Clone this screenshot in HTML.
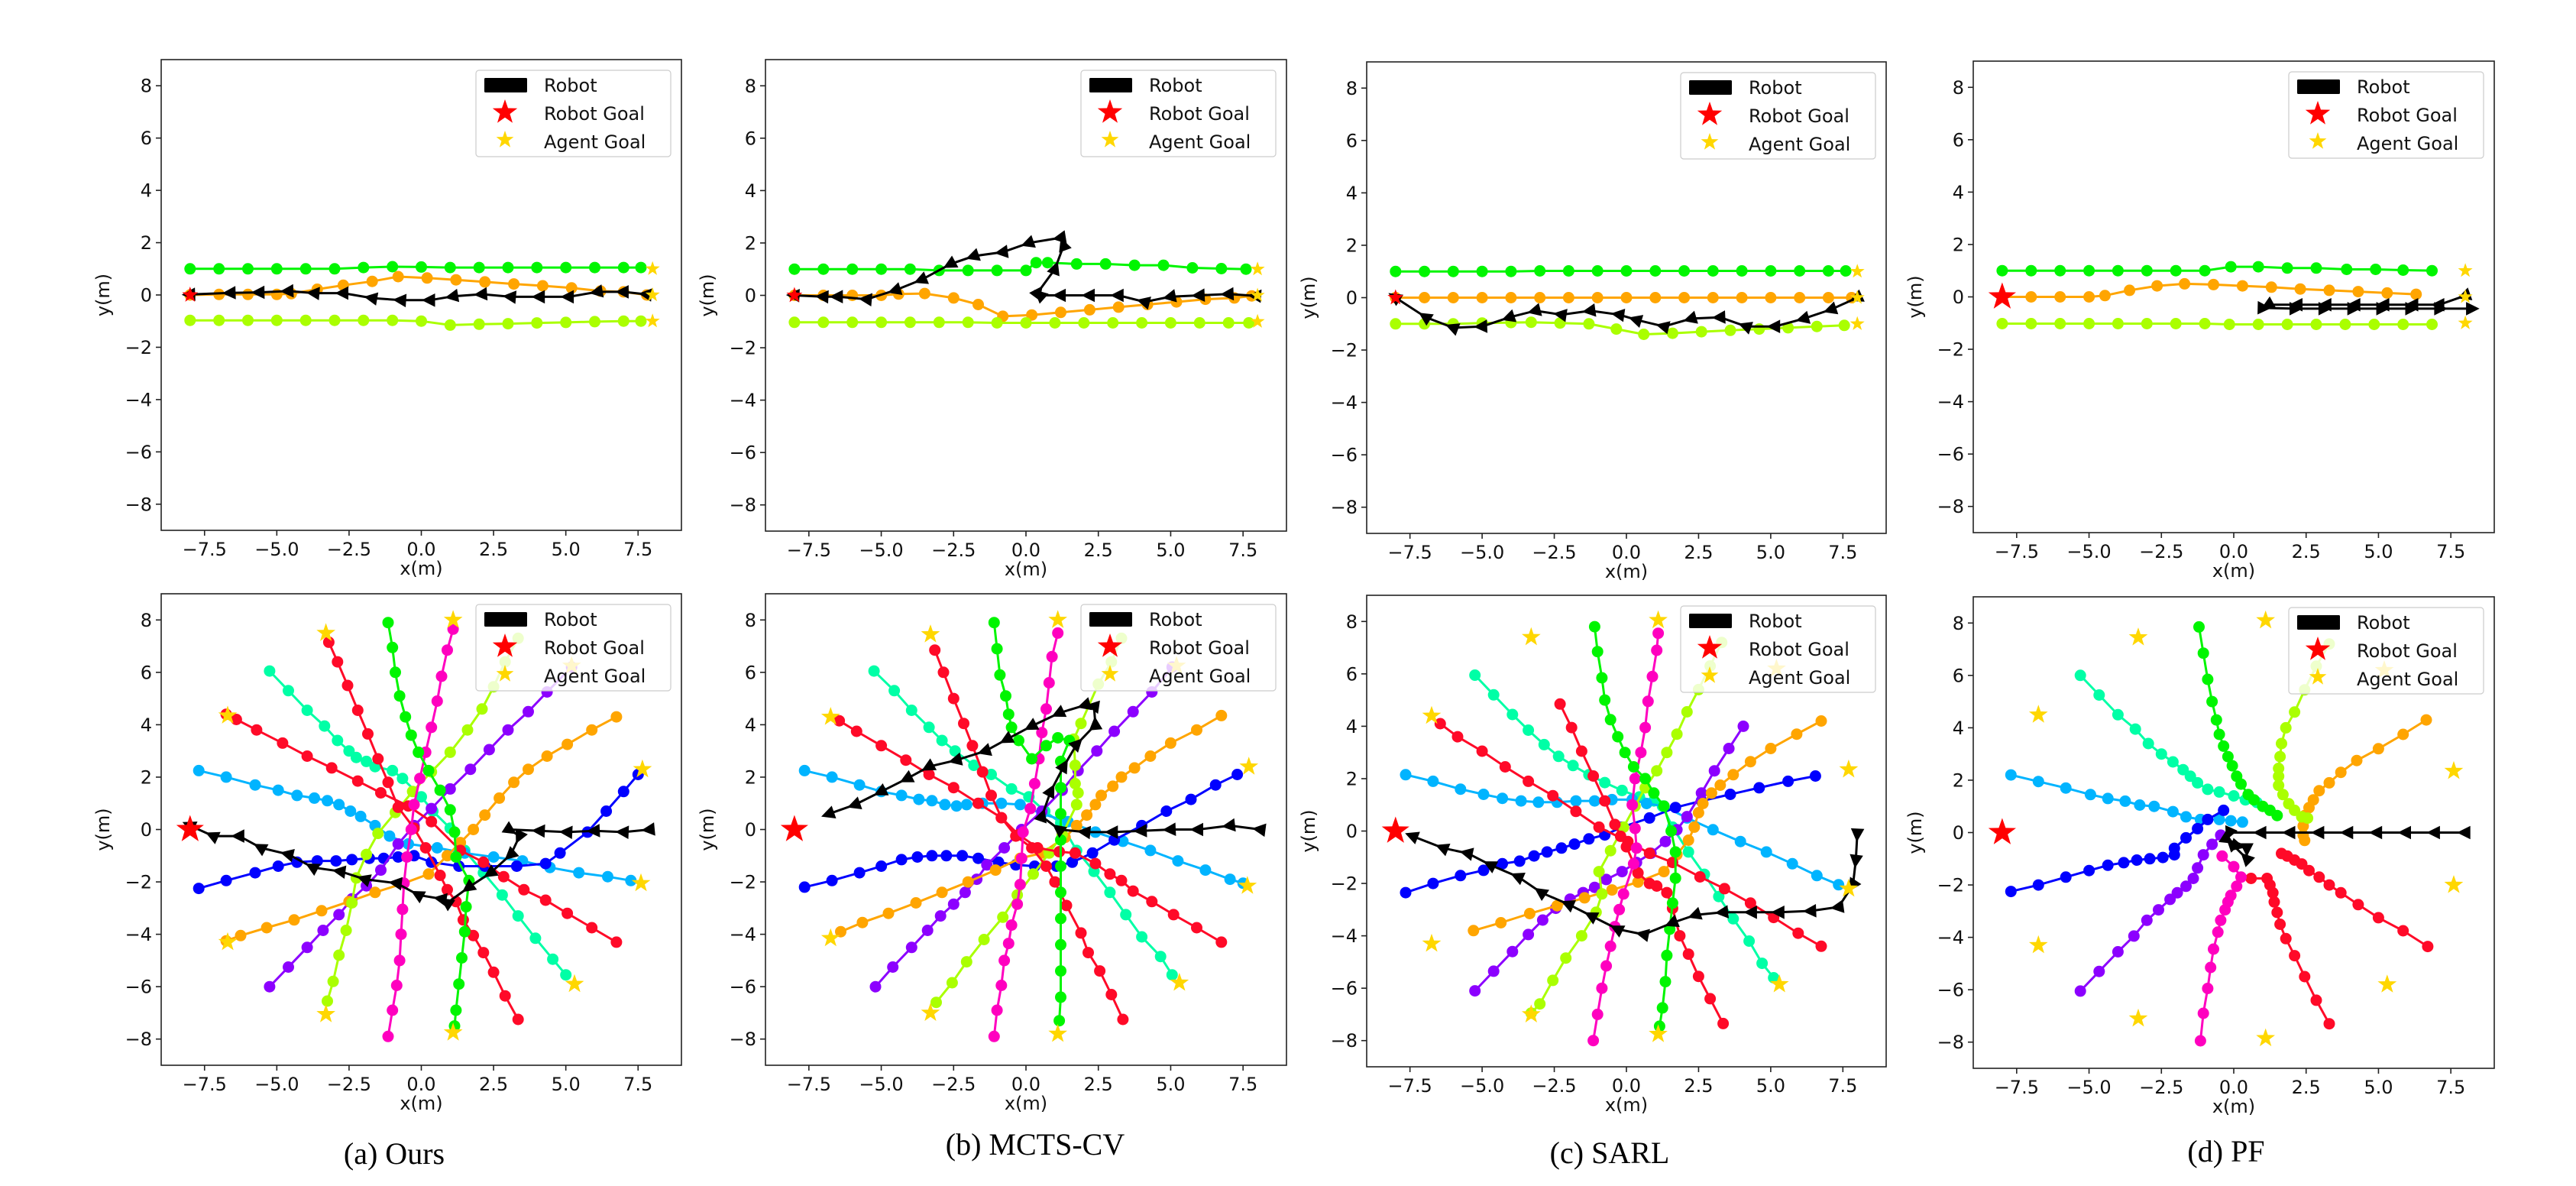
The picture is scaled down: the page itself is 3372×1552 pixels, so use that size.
<!DOCTYPE html>
<html><head><meta charset="utf-8"><title>Robot navigation trajectories</title>
<style>
html,body{margin:0;padding:0;background:#fff;}
svg{display:block;}
text{font-family:"DejaVu Sans","Liberation Sans",sans-serif;}
.cap{font-family:"Liberation Serif",serif;}
</style></head>
<body>
<svg id="fig" xmlns="http://www.w3.org/2000/svg" width="3372" height="1552" viewBox="0 0 3372 1552">
<rect x="0" y="0" width="3372" height="1552" fill="#fff"/>
</svg>
<script>
// ---------- DATA ----------
const xTicks = [-7.5, -5.0, -2.5, 0.0, 2.5, 5.0, 7.5];
const yTicks = [-8, -6, -4, -2, 0, 2, 4, 6, 8];
const captions = ["(a) Ours", "(b) MCTS-CV", "(c) SARL", "(d) PF"];
const legendLabels = ["Robot", "Robot Goal", "Agent Goal"];

// top row (3 agents: green, orange, lime)
const topGoalsX = [8, 8, 8];
const topGoalsY = [1, 0, -1];
const topA_green = [[-8,1],[-7,1],[-6,1],[-5,1],[-4,1],[-3,1],[-2,1.05],[-1,1.08],[0,1.07],[1,1.05],[2,1.05],[3,1.05],[4,1.05],[5,1.05],[6,1.05],[7,1.05],[7.6,1.05]];
const topA_orange = [[-8,0],[-7,0.02],[-6,0.02],[-5,0.02],[-4.5,0.05],[-3.6,0.22],[-2.7,0.37],[-1.7,0.52],[-0.8,0.7],[0.2,0.65],[1.2,0.58],[2.2,0.5],[3.2,0.42],[4.2,0.35],[5.2,0.27],[6.2,0.15],[7.0,0.12],[7.8,0]];
const topA_lime = [[-8,-0.97],[-7,-0.97],[-6,-0.97],[-5,-0.97],[-4,-0.97],[-3,-0.97],[-2,-0.97],[-1,-0.97],[0,-1.0],[1,-1.15],[2,-1.12],[3,-1.1],[4,-1.07],[5,-1.05],[6,-1.02],[7,-1.0],[7.6,-1.0]];
const topA_robot = [[7.8,0.02],[7.0,0.12],[6.1,0.12],[5.1,-0.07],[4.1,-0.07],[3.1,-0.07],[2.1,0.03],[1.1,-0.05],[0.3,-0.2],[-0.7,-0.2],[-1.7,-0.12],[-2.7,0.07],[-3.7,0.07],[-4.6,0.15],[-5.6,0.1],[-6.6,0.08],[-8,0.02]];

const topB_green = [[-8,1],[-7,1],[-6,1],[-5,1],[-4,1],[-3,0.95],[-2,0.95],[-1,0.95],[0,0.95],[0.35,1.25],[0.75,1.25],[1.75,1.2],[2.75,1.2],[3.75,1.15],[4.75,1.15],[5.75,1.05],[6.75,1.02],[7.6,1.0]];
const topB_orange = [[-8,0],[-7,0],[-6,0],[-5,0],[-4.4,0.05],[-3.5,0.07],[-2.5,-0.1],[-1.65,-0.35],[-0.8,-0.8],[0.2,-0.75],[1.2,-0.65],[2.2,-0.55],[3.2,-0.45],[4.2,-0.35],[5.2,-0.25],[6.2,-0.15],[7.2,-0.1],[7.8,-0.02]];
const topB_lime = [[-8,-1.03],[-7,-1.03],[-6,-1.03],[-5,-1.03],[-4,-1.03],[-3,-1.03],[-2,-1.03],[-1,-1.05],[0,-1.05],[1,-1.05],[2,-1.05],[3,-1.05],[4,-1.05],[5,-1.05],[6,-1.05],[7,-1.05],[7.7,-1.05]];
const topB_robot = [[7.95,-0.02],[7.0,0.05],[6.0,0],[5.0,-0.05],[4.1,-0.25],[3.2,0],[2.2,0],[1.2,0],[0.5,0],[0.4,0.1],[1.0,1.0],[1.3,1.9],[1.2,2.2],[0.1,2.0],[-0.8,1.65],[-1.8,1.5],[-2.6,1.2],[-3.6,0.6],[-4.5,0.2],[-5.5,-0.15],[-6.5,-0.05],[-7.0,-0.05],[-8,0]];

const topC_green = [[-8,1],[-7,1],[-6,1],[-5,1],[-4,1],[-3,1.02],[-2,1.02],[-1,1.02],[0,1.02],[1,1.02],[2,1.02],[3,1.02],[4,1.02],[5,1.02],[6,1.02],[7,1.02],[7.6,1.02]];
const topC_orange = [[-8,0],[-7,0],[-6,0],[-5,0],[-4,0],[-3,0],[-2,0],[-1,0],[0,0],[1,0],[2,0],[3,0],[4,0],[5,0],[6,0],[7,0],[7.8,0]];
const topC_lime = [[-8,-1.0],[-7,-1.0],[-6,-1.0],[-5,-0.97],[-4,-0.95],[-3.3,-0.94],[-2.3,-0.97],[-1.3,-1.0],[-0.35,-1.2],[0.6,-1.4],[1.6,-1.36],[2.6,-1.3],[3.6,-1.25],[4.6,-1.2],[5.6,-1.15],[6.6,-1.1],[7.55,-1.06]];
const topC_robot = [[8.0,0],[7.1,-0.45],[6.15,-0.8],[5.15,-1.1],[4.15,-1.1],[3.25,-0.75],[2.25,-0.8],[1.3,-1.1],[0.35,-0.85],[-0.25,-0.65],[-1.25,-0.5],[-2.25,-0.65],[-3.15,-0.5],[-4.05,-0.75],[-5.0,-1.1],[-6.0,-1.15],[-6.95,-0.75],[-8.0,0]];

const topD_green = [[-8,1],[-7,1],[-6,1],[-5,1],[-4,1],[-3,1],[-2,1],[-1,1],[-0.1,1.15],[0.85,1.15],[1.85,1.1],[2.85,1.1],[3.9,1.05],[4.9,1.05],[5.85,1.02],[6.85,1.0]];
const topD_orange = [[-8,0],[-7,0],[-6,0],[-5,0],[-4.45,0.05],[-3.6,0.25],[-2.65,0.42],[-1.7,0.5],[-0.7,0.47],[0.3,0.42],[1.3,0.37],[2.3,0.3],[3.3,0.25],[4.3,0.2],[5.3,0.15],[6.3,0.1]];
const topD_lime = [[-8,-1.02],[-7,-1.02],[-6,-1.02],[-5,-1.02],[-4,-1.02],[-3,-1.02],[-2,-1.02],[-1,-1.02],[-0.15,-1.05],[0.85,-1.05],[1.85,-1.05],[2.85,-1.05],[3.85,-1.05],[4.85,-1.05],[5.85,-1.05],[6.85,-1.05]];
const topD_robot = [[8.0,0.05],[7.1,-0.3],[6.2,-0.3],[5.2,-0.3],[4.2,-0.3],[3.2,-0.3],[2.2,-0.3],[1.2,-0.3],[1.0,-0.42],[2.1,-0.45],[3.1,-0.45],[4.1,-0.45],[5.1,-0.45],[6.1,-0.45],[7.1,-0.45],[8.2,-0.45]];

// bottom row (circle crossing): goals
const botA_goalsX = [-3.3,-6.7,1.1,5.2,7.65,7.6,5.3,1.1,-3.3,-6.7];
const botA_goalsY = [7.5,4.35,8.0,6.25,2.3,-2.05,-5.9,-7.75,-7.05,-4.3];
const botB_goalsX = [-3.3,-6.75,1.1,5.2,7.7,7.65,5.3,1.1,-3.3,-6.75];
const botB_goalsY = [7.45,4.3,8.0,6.25,2.4,-2.15,-5.85,-7.8,-7.0,-4.15];
const botC_goalsX = [-3.3,-6.75,1.1,5.2,7.7,7.7,5.3,1.1,-3.3,-6.75];
const botC_goalsY = [7.4,4.4,8.05,6.2,2.35,-2.2,-5.85,-7.75,-7.0,-4.3];
const botD_goalsX = [-3.3,-6.75,1.1,5.2,7.6,7.6,5.3,1.1,-3.3,-6.75];
const botD_goalsY = [7.45,4.5,8.1,6.2,2.35,-2.0,-5.8,-7.85,-7.1,-4.3];

// Panel (a) bottom
const botA_green = [[-1.15,7.9],[-1.0,6.95],[-0.9,6.0],[-0.75,5.1],[-0.55,4.3],[-0.35,3.6],[-0.1,2.95],[0.25,2.25],[0.65,1.5],[1.0,0.75],[1.15,-0.1],[1.2,-1.05],[1.65,-1.95],[1.55,-2.95],[1.5,-3.9],[1.4,-4.9],[1.3,-5.9],[1.2,-6.9],[1.15,-7.5]];
const botA_magenta = [[1.1,7.65],[0.9,6.85],[0.7,5.85],[0.55,4.9],[0.35,3.9],[0.15,2.95],[-0.05,1.95],[-0.25,0.95],[-0.35,0],[-0.5,-1.05],[-0.6,-2.05],[-0.65,-3.05],[-0.7,-4.0],[-0.75,-5.0],[-0.85,-5.95],[-1.0,-6.9],[-1.15,-7.9]];
const botA_lime = [[3.35,7.3],[2.9,6.4],[2.5,5.45],[2.1,4.6],[1.6,3.8],[1.0,2.95],[0.35,2.2],[-0.3,1.45],[-0.9,0.65],[-1.5,-0.15],[-1.9,-0.95],[-2.25,-1.85],[-2.4,-2.8],[-2.6,-3.85],[-2.85,-4.8],[-3.05,-5.8],[-3.25,-6.55]];
const botA_purple = [[-5.25,-6.0],[-4.6,-5.25],[-3.95,-4.5],[-3.4,-3.85],[-2.85,-3.25],[-2.4,-2.65],[-1.9,-2.15],[-1.4,-1.55],[-0.8,-0.55],[-0.25,0.15],[0.35,0.8],[1.0,1.55],[1.7,2.3],[2.35,3.05],[3.0,3.8],[3.7,4.5],[4.35,5.25],[5.2,6.2]];
const botA_orange = [[6.75,4.3],[5.9,3.8],[5.05,3.25],[4.35,2.8],[3.7,2.3],[3.2,1.8],[2.7,1.2],[2.2,0.55],[1.8,0],[1.35,-0.5],[0.9,-1.0],[0.25,-1.7],[-0.6,-2.05],[-1.6,-2.4],[-2.5,-2.75],[-3.45,-3.1],[-4.4,-3.45],[-5.35,-3.75],[-6.25,-4.05],[-6.75,-4.25]];
const botA_red1 = [[6.75,-4.3],[5.9,-3.75],[5.05,-3.2],[4.3,-2.7],[3.55,-2.3],[2.85,-1.8],[2.15,-1.25],[1.35,-0.8],[0.35,0.3],[-0.45,0.9],[-1.4,1.4],[-2.2,1.85],[-3.1,2.35],[-3.95,2.8],[-4.8,3.3],[-5.7,3.8],[-6.4,4.2],[-6.75,4.4]];
const botA_red2 = [[3.35,-7.25],[2.9,-6.35],[2.5,-5.45],[2.15,-4.7],[1.8,-4.05],[1.45,-3.45],[1.2,-2.75],[0.9,-2.3],[0.65,-1.75],[0.15,-0.7],[-0.25,0.05],[-0.8,0.85],[-1.15,1.8],[-1.5,2.7],[-1.85,3.65],[-2.2,4.55],[-2.55,5.5],[-2.9,6.4],[-3.2,7.15]];
const botA_aqua = [[-5.25,6.05],[-4.6,5.3],[-3.95,4.55],[-3.35,3.95],[-2.9,3.4],[-2.5,3.0],[-2.25,2.75],[-1.9,2.6],[-1.6,2.4],[-1.0,2.25],[-0.65,1.95],[0,1.25],[0.4,0.7],[1.0,0.05],[1.5,-0.8],[2.15,-1.65],[2.8,-2.5],[3.35,-3.3],[3.95,-4.15],[4.55,-4.95],[5.0,-5.55]];
const botA_cyan = [[-7.7,2.25],[-6.75,2.0],[-5.75,1.7],[-4.95,1.5],[-4.3,1.3],[-3.7,1.2],[-3.25,1.1],[-2.85,0.95],[-2.45,0.7],[-2.1,0.5],[-1.6,0.15],[-1.1,-0.25],[-0.45,-0.55],[0.55,-0.7],[1.5,-0.9],[2.5,-1.05],[3.5,-1.2],[4.45,-1.45],[5.45,-1.65],[6.45,-1.8],[7.25,-1.95]];
const botA_blue = [[-7.7,-2.25],[-6.75,-1.95],[-5.75,-1.65],[-4.95,-1.4],[-4.3,-1.25],[-3.6,-1.2],[-2.95,-1.2],[-2.4,-1.15],[-1.8,-1.1],[-1.3,-1.1],[-0.8,-1.05],[-0.25,-1.0],[0.35,-1.25],[1.3,-1.4],[2.2,-1.4],[3.3,-1.4],[4.3,-1.3],[4.8,-0.9],[5.75,-0.1],[6.4,0.7],[7.0,1.45],[7.5,2.1]];
const botA_robot = [[7.9,0],[7.0,-0.1],[6.0,-0.05],[5.05,-0.1],[4.1,-0.05],[3.05,0],[3.4,-0.25],[3.1,-0.95],[2.4,-1.65],[1.65,-2.2],[0.9,-2.8],[0.7,-2.65],[-0.1,-2.5],[-0.85,-2.05],[-1.95,-1.9],[-2.8,-1.6],[-3.75,-1.45],[-4.6,-0.95],[-5.55,-0.7],[-6.3,-0.25],[-7.2,-0.25],[-8.0,0.15]];

// Panel (b) bottom
const botB_green = [[-1.1,7.9],[-1.0,6.9],[-0.9,5.9],[-0.7,5.1],[-0.6,4.4],[-0.5,3.9],[-0.25,3.4],[0.2,2.7],[0.7,3.2],[1.1,3.5],[1.5,3.4],[1.2,2.6],[1.2,1.6],[1.2,0.6],[1.2,-0.4],[1.2,-1.4],[1.2,-2.4],[1.2,-3.4],[1.2,-4.4],[1.2,-5.4],[1.2,-6.4],[1.15,-7.3]];
const botB_magenta = [[1.1,7.5],[0.9,6.6],[0.8,5.6],[0.7,4.6],[0.55,3.7],[0.45,2.7],[0.3,1.75],[0.15,0.8],[-0.1,-0.1],[-0.15,-1.1],[-0.2,-2.1],[-0.3,-2.85],[-0.5,-3.65],[-0.6,-4.35],[-0.75,-5.0],[-0.85,-5.95],[-1.0,-6.9],[-1.1,-7.9]];
const botB_lime = [[3.3,7.3],[2.95,6.4],[2.5,5.55],[1.9,4.05],[1.65,3.45],[1.7,2.45],[1.7,1.75],[1.8,1.4],[1.75,0.95],[1.25,-0.2],[0.8,-0.9],[0.25,-1.7],[-0.3,-2.5],[-0.8,-3.35],[-1.45,-4.2],[-2.05,-5.05],[-2.55,-5.85],[-3.1,-6.6]];
const botB_purple = [[-5.2,-6.0],[-4.6,-5.25],[-3.95,-4.5],[-3.4,-3.85],[-2.95,-3.3],[-2.5,-2.85],[-2.1,-2.4],[-1.7,-1.9],[-1.35,-1.35],[-0.75,-0.7],[-0.15,0],[0.55,0.7],[1.25,1.5],[1.8,2.25],[2.45,3.0],[3.05,3.75],[3.7,4.5],[4.35,5.25],[5.05,6.2]];
const botB_orange = [[6.75,4.35],[5.9,3.8],[5.0,3.3],[4.3,2.8],[3.75,2.35],[3.3,2.0],[3.0,1.65],[2.6,1.3],[2.4,0.95],[2.1,0.55],[1.75,0.15],[1.35,-0.3],[0.55,-0.9],[-0.2,-1.1],[-1.05,-1.55],[-2.0,-2.0],[-2.9,-2.4],[-3.8,-2.8],[-4.75,-3.2],[-5.65,-3.55],[-6.4,-3.9]];
const botB_red1 = [[-6.45,4.15],[-5.85,3.75],[-5.0,3.2],[-4.15,2.65],[-3.35,2.1],[-2.5,1.6],[-1.65,1.0],[-0.85,0.45],[-0.25,-0.2],[0.4,-0.7],[1.15,-0.85],[1.7,-0.9],[2.4,-1.3],[2.9,-1.7],[3.3,-1.95],[3.7,-2.35],[4.35,-2.75],[5.1,-3.25],[5.9,-3.75],[6.75,-4.3]];
const botB_red2 = [[-3.15,6.85],[-2.85,6.0],[-2.5,5.0],[-2.15,4.05],[-1.85,3.2],[-1.5,2.2],[-1.2,1.3],[-0.85,0.45],[-0.35,-0.25],[0.2,-0.7],[0.7,-1.4],[1.0,-2.0],[1.4,-2.9],[1.9,-3.95],[2.15,-4.7],[2.55,-5.4],[2.95,-6.3],[3.35,-7.25]];
const botB_aqua = [[-5.25,6.05],[-4.55,5.3],[-3.95,4.55],[-3.35,3.9],[-2.9,3.4],[-2.45,3.0],[-1.8,2.45],[-1.2,2.1],[-0.5,1.55],[0.1,1.25],[0.65,0.7],[1.2,0.25],[1.75,-0.8],[2.35,-1.6],[2.9,-2.4],[3.45,-3.25],[4.0,-4.1],[4.65,-4.85],[5.05,-5.55]];
const botB_cyan = [[-7.65,2.25],[-6.7,2.0],[-5.75,1.7],[-5.0,1.45],[-4.3,1.3],[-3.7,1.15],[-3.25,1.1],[-2.8,0.95],[-2.4,0.9],[-2.05,0.95],[-1.5,1.0],[-0.85,1.0],[-0.2,0.95],[0.55,0.6],[1.45,0.3],[2.4,-0.1],[3.35,-0.45],[4.3,-0.8],[5.25,-1.2],[6.2,-1.55],[7.05,-1.9],[7.5,-2.05]];
const botB_blue = [[-7.65,-2.2],[-6.7,-1.95],[-5.75,-1.65],[-5.0,-1.4],[-4.3,-1.15],[-3.75,-1.05],[-3.25,-1.0],[-2.75,-1.0],[-2.2,-1.0],[-1.65,-1.1],[-0.95,-1.25],[-0.35,-1.35],[0.3,-1.4],[1.05,-1.4],[1.6,-1.25],[2.3,-0.9],[3.05,-0.4],[4.0,0.15],[4.85,0.7],[5.7,1.15],[6.55,1.7],[7.3,2.1]];
const botB_robot = [[8.1,0],[7.05,0.15],[5.95,0],[5.0,0],[4.0,-0.05],[3.0,-0.1],[2.05,-0.1],[1.15,0],[0.55,0.5],[0.85,1.45],[1.3,2.4],[1.75,3.25],[2.4,4.0],[2.35,4.7],[2.05,4.75],[1.15,4.45],[0.2,3.95],[-0.65,3.45],[-1.4,3.0],[-2.4,2.65],[-3.35,2.4],[-4.1,1.95],[-5.0,1.45],[-5.9,0.95],[-6.8,0.6]];

// Panel (c) bottom
const botC_green = [[-1.1,7.8],[-1.0,6.85],[-0.85,5.85],[-0.75,5.0],[-0.55,4.25],[-0.3,3.6],[-0.05,3.0],[0.25,2.45],[0.65,2.0],[0.95,1.45],[1.3,0.95],[1.55,0],[1.7,-0.8],[1.7,-1.8],[1.6,-2.75],[1.5,-3.75],[1.4,-4.75],[1.35,-5.75],[1.25,-6.75],[1.15,-7.45]];
const botC_magenta = [[1.1,7.55],[1.05,6.9],[0.9,5.9],[0.75,4.95],[0.65,3.95],[0.5,3.0],[0.3,2.0],[0.2,1.0],[0.3,0.1],[0.35,-0.65],[0.25,-1.25],[-0.1,-2.4],[-0.25,-3.0],[-0.4,-3.65],[-0.55,-4.4],[-0.7,-5.15],[-0.85,-6.0],[-1.0,-7.0],[-1.15,-8.0]];
const botC_lime = [[3.3,7.2],[2.9,6.3],[2.5,5.4],[2.1,4.55],[1.75,3.7],[1.4,3.0],[1.05,2.3],[0.65,1.65],[0.3,0.95],[-0.1,0.15],[-0.55,-0.75],[-0.95,-1.55],[-0.85,-2.4],[-1.05,-3.1],[-1.55,-4.0],[-2.1,-4.85],[-2.55,-5.7],[-3.0,-6.6],[-3.3,-6.95]];
const botC_purple = [[4.05,4.0],[3.55,3.15],[3.05,2.3],[2.6,1.45],[2.1,0.55],[1.75,0.05],[1.35,-0.4],[0.85,-0.85],[0.35,-1.2],[-0.15,-1.55],[-0.7,-1.85],[-1.1,-2.15],[-1.5,-2.35],[-1.95,-2.6],[-2.45,-2.95],[-2.9,-3.4],[-3.4,-3.95],[-3.95,-4.6],[-4.6,-5.35],[-5.25,-6.1]];
const botC_orange = [[6.75,4.2],[5.9,3.7],[5.0,3.15],[4.3,2.65],[3.7,2.15],[3.25,1.75],[2.95,1.45],[2.65,1.05],[2.5,0.7],[2.35,0.15],[2.15,-0.35],[1.75,-0.9],[1.3,-1.55],[0.4,-1.95],[-0.5,-2.25],[-1.45,-2.55],[-2.4,-2.85],[-3.35,-3.15],[-4.35,-3.5],[-5.3,-3.8]];
const botC_red1 = [[6.75,-4.4],[5.95,-3.9],[5.1,-3.3],[4.3,-2.75],[3.4,-2.2],[2.55,-1.75],[1.6,-1.2],[0.8,-0.85],[0.05,-0.4],[-0.95,0.15],[-1.75,0.75],[-2.55,1.35],[-3.4,1.9],[-4.2,2.45],[-5.0,3.05],[-5.85,3.6],[-6.45,4.1]];
const botC_red2 = [[3.35,-7.35],[2.9,-6.4],[2.5,-5.55],[2.15,-4.7],[1.85,-4.0],[1.6,-2.95],[1.4,-2.35],[1.05,-2.1],[0.8,-2.0],[0.4,-1.6],[0,-0.6],[-0.2,-0.2],[-0.4,0.25],[-0.75,1.15],[-1.15,2.1],[-1.55,3.05],[-1.9,3.95],[-2.3,4.85]];
const botC_aqua = [[-5.25,5.95],[-4.6,5.2],[-3.95,4.45],[-3.4,3.85],[-2.85,3.3],[-2.35,2.85],[-1.85,2.5],[-1.3,2.15],[-0.75,1.85],[-0.15,1.55],[0.45,1.3],[0.95,1.15],[1.25,0.95],[1.6,0.15],[2.15,-0.8],[2.7,-1.65],[3.2,-2.5],[3.7,-3.35],[4.25,-4.2],[4.7,-5.05],[5.1,-5.6]];
const botC_cyan = [[-7.65,2.15],[-6.7,1.9],[-5.75,1.6],[-4.95,1.4],[-4.3,1.25],[-3.65,1.15],[-3.05,1.1],[-2.4,1.1],[-1.75,1.15],[-1.1,1.15],[-0.5,1.2],[0.2,1.2],[0.7,1.05],[1.3,0.95],[2.1,0.5],[3.0,0.05],[3.95,-0.4],[4.85,-0.8],[5.75,-1.25],[6.6,-1.7],[7.35,-2.05]];
const botC_blue = [[-7.65,-2.35],[-6.7,-2.0],[-5.75,-1.7],[-4.95,-1.5],[-4.3,-1.25],[-3.7,-1.15],[-3.2,-0.95],[-2.75,-0.8],[-2.25,-0.65],[-1.8,-0.5],[-1.3,-0.3],[-0.75,-0.15],[-0.15,0.15],[0.8,0.5],[1.7,0.9],[2.6,1.15],[3.6,1.4],[4.6,1.65],[5.6,1.9],[6.55,2.1]];
const botC_robot = [[8.0,-0.1],[7.95,-1.1],[7.85,-2.05],[7.35,-2.9],[6.4,-3.05],[5.3,-3.1],[4.35,-3.1],[3.35,-3.1],[2.4,-3.2],[1.6,-3.5],[0.6,-3.95],[-0.3,-3.75],[-1.2,-3.25],[-2.0,-2.8],[-2.95,-2.35],[-3.75,-1.75],[-4.7,-1.3],[-5.5,-0.85],[-6.35,-0.65],[-7.4,-0.2]];

// Panel (d) bottom
const botD_green = [[-1.2,7.85],[-1.05,6.85],[-0.9,5.85],[-0.75,5.0],[-0.6,4.3],[-0.5,3.75],[-0.35,3.3],[-0.2,2.9],[-0.05,2.55],[0.1,2.15],[0.25,1.85],[0.5,1.45],[0.7,1.25],[1.0,1.0],[1.25,0.85],[1.5,0.65]];
const botD_aqua = [[-5.3,6.0],[-4.65,5.25],[-4.0,4.5],[-3.4,3.95],[-2.95,3.4],[-2.5,3.0],[-2.1,2.7],[-1.75,2.4],[-1.5,2.15],[-1.25,1.9],[-0.9,1.65],[-0.5,1.55],[0,1.4],[0.4,1.25],[0.8,1.15]];
const botD_cyan = [[-7.7,2.2],[-6.75,1.95],[-5.8,1.7],[-4.95,1.45],[-4.35,1.3],[-3.75,1.2],[-3.25,1.05],[-2.75,1.0],[-2.1,0.8],[-1.65,0.6],[-1.15,0.5],[-0.5,0.5],[-0.1,0.45],[0.3,0.4]];
const botD_blue = [[-7.7,-2.25],[-6.75,-2.0],[-5.8,-1.7],[-5.0,-1.45],[-4.35,-1.25],[-3.8,-1.15],[-3.35,-1.05],[-2.9,-1.0],[-2.45,-0.95],[-2.05,-0.85],[-2.05,-0.6],[-1.65,-0.2],[-1.25,0.15],[-0.9,0.5],[-0.35,0.85]];
const botD_purple = [[-5.3,-6.05],[-4.65,-5.3],[-4.0,-4.55],[-3.45,-3.95],[-3.0,-3.35],[-2.6,-2.95],[-2.2,-2.55],[-1.95,-2.3],[-1.65,-2.05],[-1.4,-1.75],[-1.25,-1.35],[-1.05,-0.85],[-0.75,-0.45],[-0.45,-0.1]];
const botD_magenta = [[-1.15,-7.95],[-1.05,-6.9],[-0.9,-5.95],[-0.8,-5.15],[-0.7,-4.45],[-0.55,-3.8],[-0.45,-3.35],[-0.3,-2.95],[-0.2,-2.65],[-0.1,-2.4],[0.1,-2.05],[0.25,-1.7],[0,-1.3],[-0.4,-0.9]];
const botD_red2 = [[3.3,-7.3],[2.85,-6.4],[2.45,-5.5],[2.1,-4.7],[1.8,-4.05],[1.6,-3.5],[1.5,-3.05],[1.4,-2.65],[1.35,-2.3],[1.25,-2.0],[1.15,-1.75],[0.6,-1.75]];
const botD_red1 = [[6.7,-4.35],[5.85,-3.75],[5.0,-3.25],[4.3,-2.75],[3.7,-2.3],[3.3,-2.0],[2.95,-1.7],[2.6,-1.45],[2.35,-1.2],[2.1,-1.05],[1.85,-0.9],[1.65,-0.8]];
const botD_orange = [[6.65,4.3],[5.85,3.75],[5.0,3.2],[4.25,2.75],[3.7,2.3],[3.3,1.9],[2.95,1.6],[2.75,1.25],[2.6,0.95],[2.45,0.65],[2.4,0.25],[2.4,-0.1],[2.45,-0.3]];
const botD_lime = [[3.3,7.2],[2.85,6.35],[2.45,5.45],[2.1,4.6],[1.8,4.0],[1.65,3.4],[1.6,2.9],[1.55,2.45],[1.55,2.15],[1.55,1.8],[1.7,1.45],[1.9,1.1],[2.1,0.85],[2.35,0.6],[2.55,0.55]];
const botD_robot = [[8.0,0],[6.95,0],[5.95,0],[4.95,0],[3.95,0],[2.95,0],[1.95,0],[0.95,0],[-0.15,0],[-0.25,-0.25],[0.1,-0.5],[0.45,-0.6],[0.45,-1.0],[-0.05,-0.45]];

// ---------- LAYOUT ----------
const C = {green:'#00f500', lime:'#aaff00', orange:'#ffa500', red:'#ff0a28', magenta:'#ff00bf', purple:'#8c00ff', blue:'#0000ff', cyan:'#00b4ff', aqua:'#00ffa6'};
const panels = [
  {id:'a-top', left:211, top:78, w:681, h:616, agents:[[topA_green,C.green],[topA_orange,C.orange],[topA_lime,C.lime]], robot:topA_robot, gx:topGoalsX, gy:topGoalsY, rg:11, ag:10},
  {id:'b-top', left:1002, top:78, w:682, h:617, agents:[[topB_green,C.green],[topB_orange,C.orange],[topB_lime,C.lime]], robot:topB_robot, gx:topGoalsX, gy:topGoalsY, rg:11, ag:10},
  {id:'c-top', left:1789, top:81, w:680, h:617, agents:[[topC_green,C.green],[topC_orange,C.orange],[topC_lime,C.lime]], robot:topC_robot, gx:topGoalsX, gy:topGoalsY, rg:11, ag:10},
  {id:'d-top', left:2583, top:80, w:682, h:617, agents:[[topD_green,C.green],[topD_orange,C.orange],[topD_lime,C.lime]], robot:topD_robot, gx:topGoalsX, gy:topGoalsY, rg:19, ag:10},
  {id:'a-bottom', left:211, top:777, w:681, h:617, agents:[[botA_aqua,C.aqua],[botA_cyan,C.cyan],[botA_blue,C.blue],[botA_purple,C.purple],[botA_orange,C.orange],[botA_lime,C.lime],[botA_red1,C.red],[botA_red2,C.red],[botA_magenta,C.magenta],[botA_green,C.green]], robot:botA_robot, gx:botA_goalsX, gy:botA_goalsY, rg:19, ag:13},
  {id:'b-bottom', left:1002, top:777, w:682, h:617, agents:[[botB_aqua,C.aqua],[botB_cyan,C.cyan],[botB_blue,C.blue],[botB_purple,C.purple],[botB_orange,C.orange],[botB_lime,C.lime],[botB_red1,C.red],[botB_red2,C.red],[botB_magenta,C.magenta],[botB_green,C.green]], robot:botB_robot, gx:botB_goalsX, gy:botB_goalsY, rg:19, ag:13},
  {id:'c-bottom', left:1789, top:779, w:680, h:617, agents:[[botC_aqua,C.aqua],[botC_cyan,C.cyan],[botC_blue,C.blue],[botC_purple,C.purple],[botC_orange,C.orange],[botC_lime,C.lime],[botC_red1,C.red],[botC_red2,C.red],[botC_magenta,C.magenta],[botC_green,C.green]], robot:botC_robot, gx:botC_goalsX, gy:botC_goalsY, rg:19, ag:13},
  {id:'d-bottom', left:2583, top:781, w:682, h:617, agents:[[botD_aqua,C.aqua],[botD_cyan,C.cyan],[botD_blue,C.blue],[botD_purple,C.purple],[botD_orange,C.orange],[botD_lime,C.lime],[botD_red1,C.red],[botD_red2,C.red],[botD_magenta,C.magenta],[botD_green,C.green]], robot:botD_robot, gx:botD_goalsX, gy:botD_goalsY, rg:19, ag:13}
];
const capPos = [[516,1510],[1355,1498],[2107,1509],[2914,1507]];

const NS = 'http://www.w3.org/2000/svg';
const svg = document.getElementById('fig');
function mk(tag, attrs, parent){
  const e = document.createElementNS(NS, tag);
  for (const k in attrs) e.setAttribute(k, attrs[k]);
  (parent||svg).appendChild(e);
  return e;
}
function starPts(cx, cy, r){
  const pts = [];
  for (let i=0;i<10;i++){
    const rr = i%2===0 ? r : r*0.4;
    const a = -Math.PI/2 + i*Math.PI/5;
    pts.push((cx+rr*Math.cos(a)).toFixed(1)+','+(cy+rr*Math.sin(a)).toFixed(1));
  }
  return pts.join(' ');
}
function fmt(v){ return (v<0?'\u2212':'') + Math.abs(v).toFixed(Number.isInteger(v)&&Math.abs(v)%1===0&&String(v).indexOf('.')<0 ? 0 : 1); }

panels.forEach((p, pi) => {
  const sx = x => p.left + (x+9)/18*p.w;
  const sy = y => p.top + (9-y)/18*p.h;
  const g = mk('g', {});
  
  
  const clipId = 'clip' + pi;
  const cp = mk('clipPath', {id:clipId}, g);
  mk('rect', {x:p.left, y:p.top, width:p.w, height:p.h}, cp);
  const plot = mk('g', {'clip-path':'url(#'+clipId+')'}, g);
  
  

  // agents
  p.agents.forEach((ag, ai) => {
    const pts = ag[0], col = ag[1];
    const tg = mk('g', {}, plot);
    
    
    mk('polyline', {points: pts.map(q => sx(q[0]).toFixed(1)+','+sy(q[1]).toFixed(1)).join(' '), fill:'none', stroke:col, 'stroke-width':3}, tg);
    pts.forEach(q => {
      const c = mk('circle', {cx:sx(q[0]).toFixed(1), cy:sy(q[1]).toFixed(1), r:7.5, fill:col}, tg);
      
      
    });
  });

  // robot
  const rgp = mk('g', {}, plot);
  
  
  const rp = p.robot;
  mk('polyline', {points: rp.map(q => sx(q[0]).toFixed(1)+','+sy(q[1]).toFixed(1)).join(' '), fill:'none', stroke:'#000', 'stroke-width':3}, rgp);
  rp.forEach((q, i) => {
    const a = rp[Math.min(i+1, rp.length-1)], b = i+1<rp.length ? q : rp[i-1];
    const from = i+1<rp.length ? q : rp[i-1];
    const to = i+1<rp.length ? rp[i+1] : q;
    const ang = Math.atan2(sy(to[1])-sy(from[1]), sx(to[0])-sx(from[0]));
    const cx = sx(q[0]), cy = sy(q[1]), r = 11;
    const pts = [[r,0],[-r*0.6,r*0.8],[-r*0.6,-r*0.8]].map(v => (cx + v[0]*Math.cos(ang) - v[1]*Math.sin(ang)).toFixed(1)+','+(cy + v[0]*Math.sin(ang) + v[1]*Math.cos(ang)).toFixed(1)).join(' ');
    const t = mk('polygon', {points:pts, fill:'#000'}, rgp);
    
    
  });

  // goals
  p.gx.forEach((gxv, i) => {
    const s = mk('polygon', {points: starPts(sx(gxv), sy(p.gy[i]), p.ag), fill:'#ffd700'}, plot);
    
    
  });
  const rs = mk('polygon', {points: starPts(sx(-8), sy(0), p.rg), fill:'#ff0000'}, plot);
  
  

  // frame
  const fr = mk('rect', {x:p.left, y:p.top, width:p.w, height:p.h, fill:'none', stroke:'#222', 'stroke-width':1.6}, g);
  
  

  // ticks
  xTicks.forEach(v => {
    const x = sx(v);
    mk('line', {x1:x, y1:p.top+p.h, x2:x, y2:p.top+p.h+7, stroke:'#222', 'stroke-width':1.6}, g);
    const t = mk('text', {x:x, y:p.top+p.h+33, 'font-size':24, 'text-anchor':'middle', fill:'#111'}, g);
    t.textContent = (v<0?'\u2212':'') + Math.abs(v).toFixed(1);
    
    
  });
  yTicks.forEach(v => {
    const y = sy(v);
    mk('line', {x1:p.left-7, y1:y, x2:p.left, y2:y, stroke:'#222', 'stroke-width':1.6}, g);
    const t = mk('text', {x:p.left-12, y:y+8.5, 'font-size':24, 'text-anchor':'end', fill:'#111'}, g);
    t.textContent = (v<0?'\u2212':'') + Math.abs(v);
    
    
  });
  const xl = mk('text', {x:p.left+p.w/2, y:p.top+p.h+58, 'font-size':24, 'text-anchor':'middle', fill:'#111'}, g);
  xl.textContent = 'x(m)';
  
  
  const yl = mk('text', {x:0, y:0, 'font-size':24, 'text-anchor':'middle', fill:'#111', transform:'translate('+(p.left-68)+','+(p.top+p.h/2)+') rotate(-90)'}, g);
  yl.textContent = 'y(m)';
  
  

  // legend
  const lg = mk('g', {}, g);
  
  
  const lx = p.left + p.w - 269, ly = p.top + 14;
  mk('rect', {x:lx, y:ly, width:255, height:113, rx:4, fill:'#fff', 'fill-opacity':0.8, stroke:'#cccccc', 'stroke-width':1.2}, lg);
  mk('rect', {x:lx+11, y:ly+10, width:56, height:19, rx:1.5, fill:'#000'}, lg);
  mk('polygon', {points: starPts(lx+38, ly+55, 17), fill:'#ff0000'}, lg);
  mk('polygon', {points: starPts(lx+38, ly+91, 12), fill:'#ffd700'}, lg);
  legendLabels.forEach((lab, i) => {
    const t = mk('text', {x:lx+89, y:ly+28+i*37, 'font-size':24, fill:'#111'}, lg);
    t.textContent = lab;
    
    
  });
});

captions.forEach((c, i) => {
  const t = mk('text', {x:capPos[i][0], y:capPos[i][1]+13, 'font-size':40, 'text-anchor':'middle', fill:'#000', class:'cap'});
  t.textContent = c;
  
  
});
</script>
</body></html>
